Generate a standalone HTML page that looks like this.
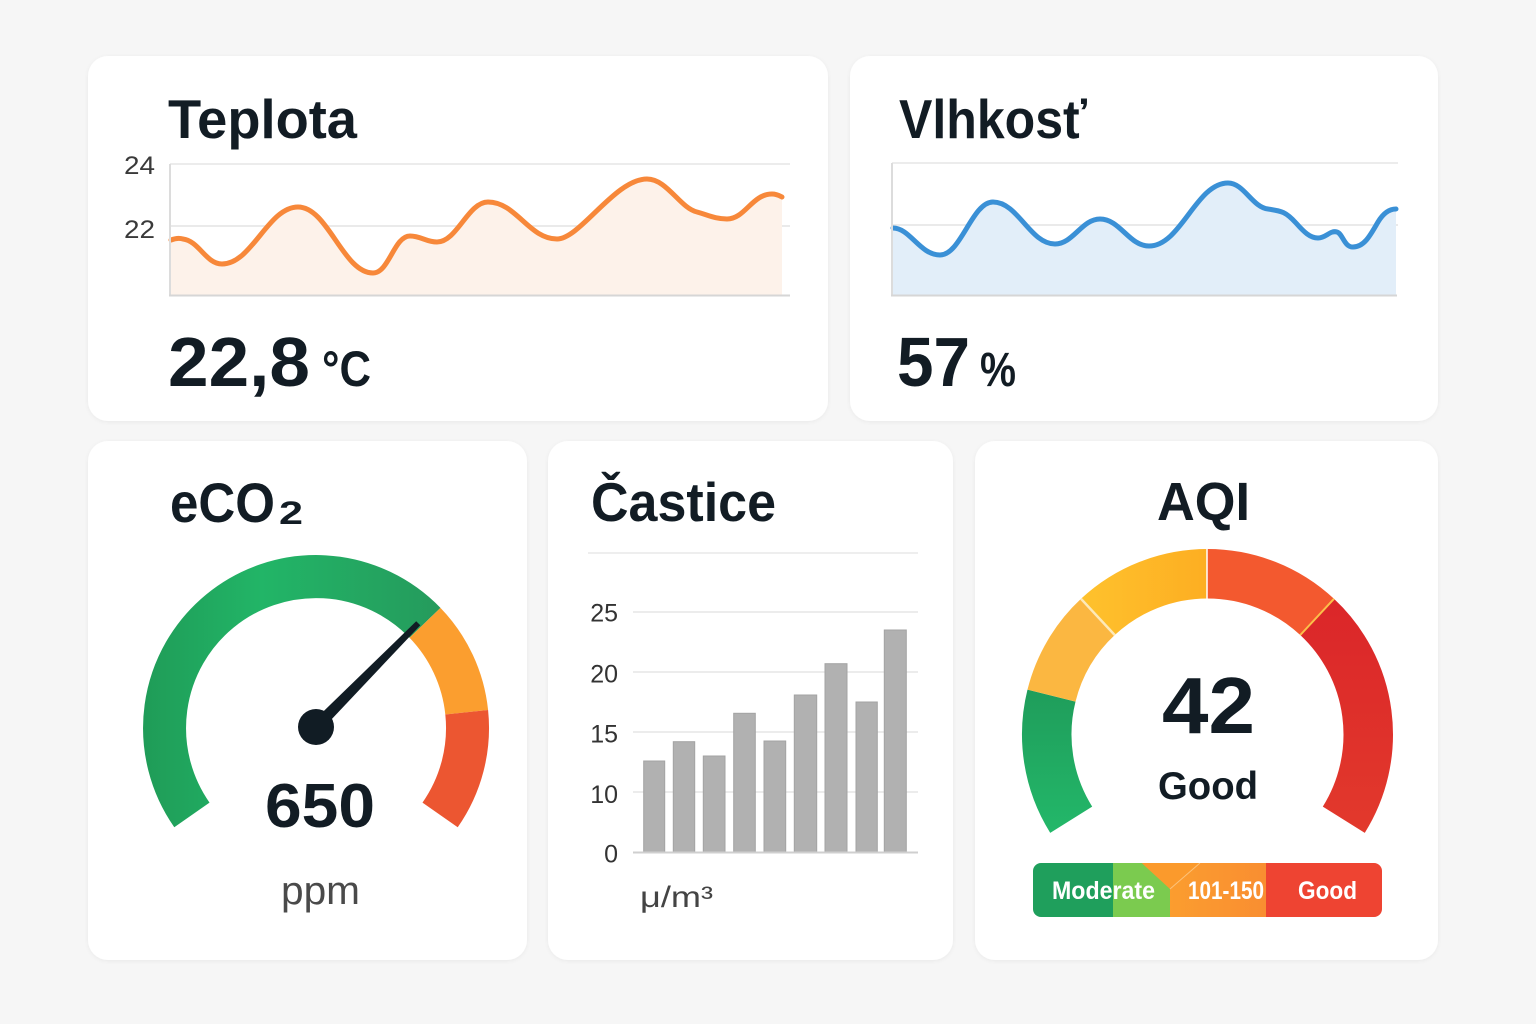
<!DOCTYPE html>
<html><head><meta charset="utf-8">
<style>
html,body{margin:0;padding:0;background:#f6f6f6;}
body{width:1536px;height:1024px;overflow:hidden;position:relative;}
svg{position:absolute;left:0;top:0;}
text{font-family:"Liberation Sans","DejaVu Sans",sans-serif;}
</style></head>
<body>
<svg width="1536" height="1024" viewBox="0 0 1536 1024" xmlns="http://www.w3.org/2000/svg">
<defs>
  <filter id="sh" x="-5%" y="-5%" width="110%" height="110%">
    <feDropShadow dx="0" dy="1" stdDeviation="2" flood-color="#000" flood-opacity="0.05"/>
  </filter>
  <linearGradient id="g1" x1="140" y1="0" x2="445" y2="0" gradientUnits="userSpaceOnUse">
    <stop offset="0" stop-color="#1f9b57"/>
    <stop offset="0.4" stop-color="#22b567"/>
    <stop offset="1" stop-color="#259a5c"/>
  </linearGradient>
  <linearGradient id="ag" x1="0" y1="690" x2="0" y2="830" gradientUnits="userSpaceOnUse">
    <stop offset="0" stop-color="#1f9d5b"/>
    <stop offset="1" stop-color="#23b769"/>
  </linearGradient>
  <linearGradient id="ay" x1="1080" y1="0" x2="1207" y2="0" gradientUnits="userSpaceOnUse">
    <stop offset="0" stop-color="#fec22d"/>
    <stop offset="1" stop-color="#fdae22"/>
  </linearGradient>
  <linearGradient id="ar" x1="0" y1="600" x2="0" y2="830" gradientUnits="userSpaceOnUse">
    <stop offset="0" stop-color="#db2629"/>
    <stop offset="1" stop-color="#e2392c"/>
  </linearGradient>
  <linearGradient id="lo" x1="1170" y1="0" x2="1266" y2="0" gradientUnits="userSpaceOnUse">
    <stop offset="0" stop-color="#fb9d2f"/>
    <stop offset="1" stop-color="#f98e31"/>
  </linearGradient>
  <clipPath id="lbclip"><rect x="1033" y="863" width="349" height="54" rx="8"/></clipPath>
</defs>

<!-- Cards -->
<rect x="88" y="56" width="740" height="365" rx="20" fill="#fff" filter="url(#sh)"/>
<rect x="850" y="56" width="588" height="365" rx="20" fill="#fff" filter="url(#sh)"/>
<rect x="88" y="441" width="439" height="519" rx="20" fill="#fff" filter="url(#sh)"/>
<rect x="548" y="441" width="405" height="519" rx="20" fill="#fff" filter="url(#sh)"/>
<rect x="975" y="441" width="463" height="519" rx="20" fill="#fff" filter="url(#sh)"/>

<!-- ===== Teplota ===== -->
<text x="168" y="138" font-size="55" font-weight="bold" fill="#121c24" textLength="189" lengthAdjust="spacingAndGlyphs">Teplota</text>
<line x1="170" y1="164" x2="790" y2="164" stroke="#e6e6e6" stroke-width="1.5"/>
<line x1="170" y1="226" x2="790" y2="226" stroke="#e4e4e4" stroke-width="1.5"/>
<path d="M171,240 C176,238 180,238 183,239 C199,241 206,264 222,264 C252,264 268,207 298,207 C328,207 343,273 373,273 C389,273 394,236 410,236 C421,236 426,242 437,242 C457,242 468,202 488,202 C516,202 529,239 557,239 C580,239 615,179 647,179 C667,179 680,208 697,212 C708,215 715,219 727,219 C745,219 752,194 772,194 C777,194 780,196 782,197 L782,295 L171,295 Z" fill="#fdf2ea"/>
<path d="M171,240 C176,238 180,238 183,239 C199,241 206,264 222,264 C252,264 268,207 298,207 C328,207 343,273 373,273 C389,273 394,236 410,236 C421,236 426,242 437,242 C457,242 468,202 488,202 C516,202 529,239 557,239 C580,239 615,179 647,179 C667,179 680,208 697,212 C708,215 715,219 727,219 C745,219 752,194 772,194 C777,194 780,196 782,197" fill="none" stroke="#f7883a" stroke-width="5" stroke-linecap="round" stroke-linejoin="round"/>
<line x1="170" y1="164" x2="170" y2="296" stroke="#dcdcdc" stroke-width="2"/>
<line x1="169" y1="295.5" x2="790" y2="295.5" stroke="#d6d6d6" stroke-width="2"/>
<text x="124" y="174" font-size="25" fill="#3a3a3a" textLength="31" lengthAdjust="spacingAndGlyphs">24</text>
<text x="124" y="238" font-size="25" fill="#3a3a3a" textLength="31" lengthAdjust="spacingAndGlyphs">22</text>
<text x="168" y="386" font-size="70" font-weight="bold" fill="#121c24" textLength="142" lengthAdjust="spacingAndGlyphs">22,8</text>
<text x="322" y="386" font-size="50" font-weight="bold" fill="#121c24" textLength="49" lengthAdjust="spacingAndGlyphs">°C</text>

<!-- ===== Vlhkosť ===== -->
<text x="899" y="138" font-size="55" font-weight="bold" fill="#121c24" textLength="188" lengthAdjust="spacingAndGlyphs">Vlhkosť</text>
<line x1="892" y1="163" x2="1398" y2="163" stroke="#e6e6e6" stroke-width="1.5"/>
<line x1="892" y1="225" x2="1398" y2="225" stroke="#e4e4e4" stroke-width="1.5"/>
<path d="M893,228 C910,228 920,255 940,255 C961,255 972,202 993,202 C1018,202 1030,244 1055,244 C1073,244 1082,219 1100,219 C1120,219 1129,246 1149,246 C1181,246 1196,183 1228,183 C1244,183 1252,207 1268,209 C1282,211 1286,212 1296,223 C1304,232 1310,238 1318,238 C1326,238 1330,230 1337,232 C1343,234 1344,247 1353,247 C1364,247 1370,236 1378,222 C1384,212 1390,209 1396,209 L1396,295 L893,295 Z" fill="#e2eef9"/>
<path d="M893,228 C910,228 920,255 940,255 C961,255 972,202 993,202 C1018,202 1030,244 1055,244 C1073,244 1082,219 1100,219 C1120,219 1129,246 1149,246 C1181,246 1196,183 1228,183 C1244,183 1252,207 1268,209 C1282,211 1286,212 1296,223 C1304,232 1310,238 1318,238 C1326,238 1330,230 1337,232 C1343,234 1344,247 1353,247 C1364,247 1370,236 1378,222 C1384,212 1390,209 1396,209" fill="none" stroke="#3a90d6" stroke-width="5" stroke-linecap="round" stroke-linejoin="round"/>
<line x1="892" y1="163" x2="892" y2="296" stroke="#dcdcdc" stroke-width="2"/>
<line x1="891" y1="295.5" x2="1397" y2="295.5" stroke="#d6d6d6" stroke-width="2"/>
<text x="897" y="386" font-size="70" font-weight="bold" fill="#121c24" textLength="73" lengthAdjust="spacingAndGlyphs">57</text>
<text x="980" y="386" font-size="48" font-weight="bold" fill="#121c24" textLength="36" lengthAdjust="spacingAndGlyphs">%</text>

<!-- ===== eCO2 ===== -->
<text x="170" y="522" font-size="56" font-weight="bold" fill="#121c24" textLength="105" lengthAdjust="spacingAndGlyphs">eCO</text>
<text x="279" y="524" font-size="32" font-weight="bold" fill="#121c24" textLength="24" lengthAdjust="spacingAndGlyphs">2</text>
<path d="M191.9,814.9 A151.5,151.5 0 0 1 425.0,622.8" fill="none" stroke="url(#g1)" stroke-width="43"/>
<path d="M425.0,622.8 A151.5,151.5 0 0 1 466.7,712.2" fill="none" stroke="#fb9e2f" stroke-width="43"/>
<path d="M466.7,712.2 A151.5,151.5 0 0 1 440.1,814.9" fill="none" stroke="#ec5631" stroke-width="43"/>
<polygon points="320.3,731.2 311.7,722.8 416.2,621.3 420.3,625.3" fill="#111c24"/>
<circle cx="316" cy="727" r="18" fill="#111c24"/>
<text x="265" y="827" font-size="62" font-weight="bold" fill="#121c24" textLength="110" lengthAdjust="spacingAndGlyphs">650</text>
<text x="281" y="904" font-size="40" fill="#4a4a4a" textLength="79" lengthAdjust="spacingAndGlyphs">ppm</text>

<!-- ===== Častice ===== -->
<text x="591" y="521" font-size="55" font-weight="bold" fill="#121c24" textLength="185" lengthAdjust="spacingAndGlyphs">Častice</text>
<line x1="588" y1="553" x2="918" y2="553" stroke="#e8e8e8" stroke-width="1.5"/>
<g stroke="#e6e6e6" stroke-width="1.5">
  <line x1="633" y1="612" x2="918" y2="612"/>
  <line x1="633" y1="672" x2="918" y2="672"/>
  <line x1="633" y1="732" x2="918" y2="732"/>
  <line x1="633" y1="792" x2="918" y2="792"/>
</g>
<g fill="#b1b1b1" stroke="#a3a3a3" stroke-width="1">
  <rect x="643.7" y="761" width="21" height="91.5"/>
  <rect x="673.3" y="741.7" width="21.4" height="110.8"/>
  <rect x="703.3" y="756" width="21.7" height="96.5"/>
  <rect x="733.7" y="713.3" width="21.6" height="139.2"/>
  <rect x="764" y="741" width="21.7" height="111.5"/>
  <rect x="794.3" y="695" width="22.4" height="157.5"/>
  <rect x="825" y="663.7" width="22" height="188.8"/>
  <rect x="856" y="702" width="21.3" height="150.5"/>
  <rect x="884.3" y="630" width="22" height="222.5"/>
</g>
<line x1="633" y1="852.5" x2="918" y2="852.5" stroke="#cfcfcf" stroke-width="2"/>
<g font-size="25" fill="#333" text-anchor="end">
  <text x="618" y="621.5">25</text>
  <text x="618" y="682.5">20</text>
  <text x="618" y="742.5">15</text>
  <text x="618" y="803">10</text>
  <text x="618" y="862.5">0</text>
</g>
<text x="640" y="907" font-size="30" fill="#444" textLength="73" lengthAdjust="spacingAndGlyphs">μ/m³</text>

<!-- ===== AQI ===== -->
<text x="1157" y="520" font-size="54" font-weight="bold" fill="#121c24" textLength="93" lengthAdjust="spacingAndGlyphs">AQI</text>
<path d="M1071.2,819.7 A160.75,160.75 0 0 1 1051.5,695.6" fill="none" stroke="url(#ag)" stroke-width="49.5"/>
<path d="M1051.5,695.6 A160.75,160.75 0 0 1 1097.9,616.9" fill="none" stroke="#fbb741" stroke-width="49.5"/>
<path d="M1097.9,616.9 A160.75,160.75 0 0 1 1207.5,573.75" fill="none" stroke="url(#ay)" stroke-width="49.5"/>
<path d="M1207.5,573.75 A160.75,160.75 0 0 1 1317.1,616.9" fill="none" stroke="#f3592f" stroke-width="49.5"/>
<path d="M1317.1,616.9 A160.75,160.75 0 0 1 1343.8,819.7" fill="none" stroke="url(#ar)" stroke-width="49.5"/>
<line x1="1114.7" y1="635" x2="1081" y2="598.8" stroke="#fde9b8" stroke-width="2.5"/>
<line x1="1300.3" y1="635" x2="1334" y2="598.8" stroke="#fbc04a" stroke-width="2"/>
<line x1="1207" y1="598.5" x2="1207" y2="549" stroke="#fff" stroke-width="1.5"/>
<text x="1162" y="733" font-size="80" font-weight="bold" fill="#121c24" textLength="93" lengthAdjust="spacingAndGlyphs">42</text>
<text x="1158" y="799" font-size="39" font-weight="bold" fill="#121c24" textLength="100" lengthAdjust="spacingAndGlyphs">Good</text>

<!-- legend bar -->
<g clip-path="url(#lbclip)">
  <rect x="1033" y="863" width="80" height="54" fill="#1f9f5c"/>
  <rect x="1113" y="863" width="57" height="54" fill="#7bcb4f"/>
  <rect x="1170" y="863" width="96" height="54" fill="url(#lo)"/>
  <polygon points="1141.7,863 1200,863 1170,889" fill="#fb9a2c"/>
  <line x1="1170" y1="889" x2="1200" y2="863" stroke="#fcc27a" stroke-width="1"/>
  <rect x="1266" y="863" width="116" height="54" fill="#ee4432"/>
</g>
<g font-size="25" font-weight="bold" fill="#fff">
  <text x="1052" y="899" textLength="103" lengthAdjust="spacingAndGlyphs">Moderate</text>
  <text x="1188" y="899" textLength="76" lengthAdjust="spacingAndGlyphs">101-150</text>
  <text x="1298" y="899" textLength="59" lengthAdjust="spacingAndGlyphs">Good</text>
</g>
</svg>
</body></html>
